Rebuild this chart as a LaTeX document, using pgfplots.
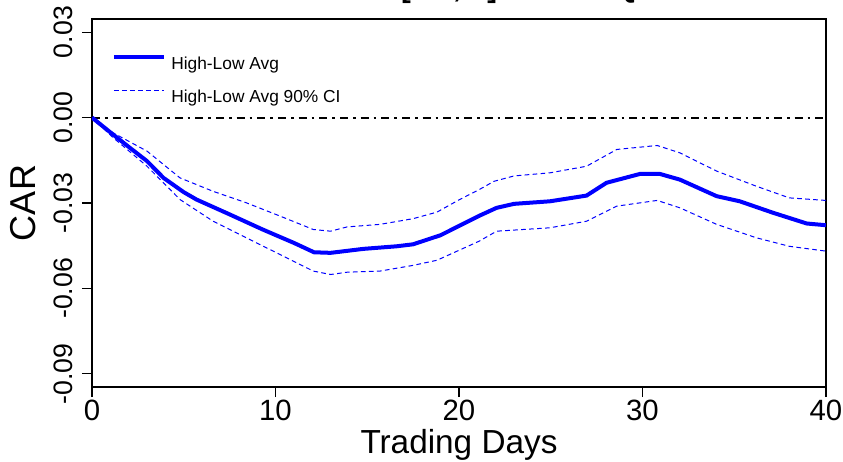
\documentclass[border=0pt]{standalone}
\usepackage{fontspec}
\setmainfont{Liberation Sans}
\usepackage{pgfplots}
\pgfplotsset{compat=1.18}
\begin{document}
\begin{tikzpicture}
\begin{axis}[
  scale only axis,
  width=550.5pt, height=276pt,
  xmin=0, xmax=40, ymin=-0.0946, ymax=0.0346,
  scaled y ticks=false,
  axis line style={black, line width=0.8pt},
  xtick={0,10,20,30,40},
  ytick={-0.09,-0.06,-0.03,0,0.03},
  yticklabels={-0.09,-0.06,-0.03,0.00,0.03},
  tick align=outside, xtick pos=bottom, ytick pos=left,
  major tick length=7.5pt,
  tick style={black, line width=0.8pt},
  /pgf/number format/assume math mode=true,
  ticklabel style={font=\fontsize{20}{24}\selectfont},
  xticklabel style={inner sep=0pt, yshift=-2pt, font=\fontsize{22}{26}\selectfont},
  yticklabel style={rotate=90, anchor=south, inner sep=0pt},
  yticklabel shift=7pt,
  xlabel={Trading Days},
  ylabel={CAR},
  xlabel style={font=\fontsize{25}{30}\selectfont, at={(axis description cs:0.5,-0.182)}, anchor=base, inner sep=0pt},
  ylabel style={font=\fontsize{27}{32}\selectfont, at={(axis description cs:-0.094,0.5)}, anchor=center, inner sep=0pt},
  title={\bfseries Recent Return [-10,-1] Lowest Quartile},
  title style={font=\fontsize{22}{26}\selectfont, at={(axis description cs:0.5,1.038)}, anchor=base, inner sep=0pt},
  legend style={draw=none, fill=none, at={(axis description cs:0,1)}, anchor=north west,
    xshift=15pt, yshift=-26.7pt, inner sep=0pt, outer sep=0pt,
    font=\fontsize{13}{16}\selectfont,
    nodes={inner sep=0pt, text height=9.5pt, text depth=2.5pt},
    row sep=12.75pt, column sep=4pt},
  legend cell align=left,
  legend image code/.code={\draw[#1] (-1.5pt,6pt) -- (36pt,6pt);},
]
\addplot[black, line width=1.5pt, dash pattern=on 6pt off 3.75pt on 2pt off 3.75pt, forget plot] coordinates {(0,0)(40,0)};
\addplot[blue, line width=3pt] coordinates {
(0,0)(1,-0.0052)(2,-0.0103)(3,-0.0153)(3.9,-0.0212)(5,-0.0262)(5.7,-0.0288)(7.5,-0.0340)(9.3,-0.0393)(11,-0.0440)(12.1,-0.0473)(13,-0.0475)(14.8,-0.0461)(16.6,-0.0452)(17.5,-0.0445)(19,-0.0413)(21.1,-0.0345)(22.05,-0.0317)(23,-0.0303)(24.96,-0.0294)(26.95,-0.0274)(28.04,-0.0229)(29.86,-0.0198)(30.95,-0.0198)(32.04,-0.0218)(34.04,-0.0276)(35.3,-0.0294)(37.1,-0.0334)(38.95,-0.0372)(40,-0.0378)
};
\addlegendentry{High-Low Avg}
\addplot[blue, line width=0.75pt, dash pattern=on 3.5pt off 2.5pt] coordinates {
(0,0)(1.16,-0.0054)(3,-0.0118)(4.8,-0.0212)(6.6,-0.0259)(8.4,-0.0299)(10.25,-0.0346)(12.06,-0.0393)(13,-0.0399)(13.9,-0.0384)(15.7,-0.0375)(17.5,-0.0355)(18.8,-0.0332)(20,-0.0289)(21.1,-0.0253)(21.9,-0.0224)(23,-0.0205)(24.96,-0.0194)(26.95,-0.0171)(28.6,-0.0112)(30.8,-0.0098)(32.04,-0.0124)(34.04,-0.0188)(36.2,-0.0241)(38,-0.0282)(40,-0.0291)
};
\addlegendentry{High-Low Avg 90\% CI}
\addplot[blue, line width=0.75pt, dash pattern=on 3.5pt off 2.5pt, forget plot] coordinates {
(0,0)(1.16,-0.0071)(3,-0.0171)(4.8,-0.0288)(6.6,-0.0364)(8.4,-0.0422)(10.25,-0.0481)(12.06,-0.0539)(13,-0.0551)(13.9,-0.0543)(15.7,-0.0539)(17.5,-0.0519)(18.8,-0.0501)(21.1,-0.0434)(22.05,-0.0399)(24.96,-0.0387)(26.95,-0.0364)(28.6,-0.0311)(30.8,-0.0291)(32.04,-0.0317)(34.04,-0.0375)(36.2,-0.0422)(38,-0.0452)(40,-0.0469)
};
\end{axis}
\pgfresetboundingbox
\useasboundingbox (-69pt,-55.5pt) rectangle (563.25pt,290.25pt);
\end{tikzpicture}
\end{document}
